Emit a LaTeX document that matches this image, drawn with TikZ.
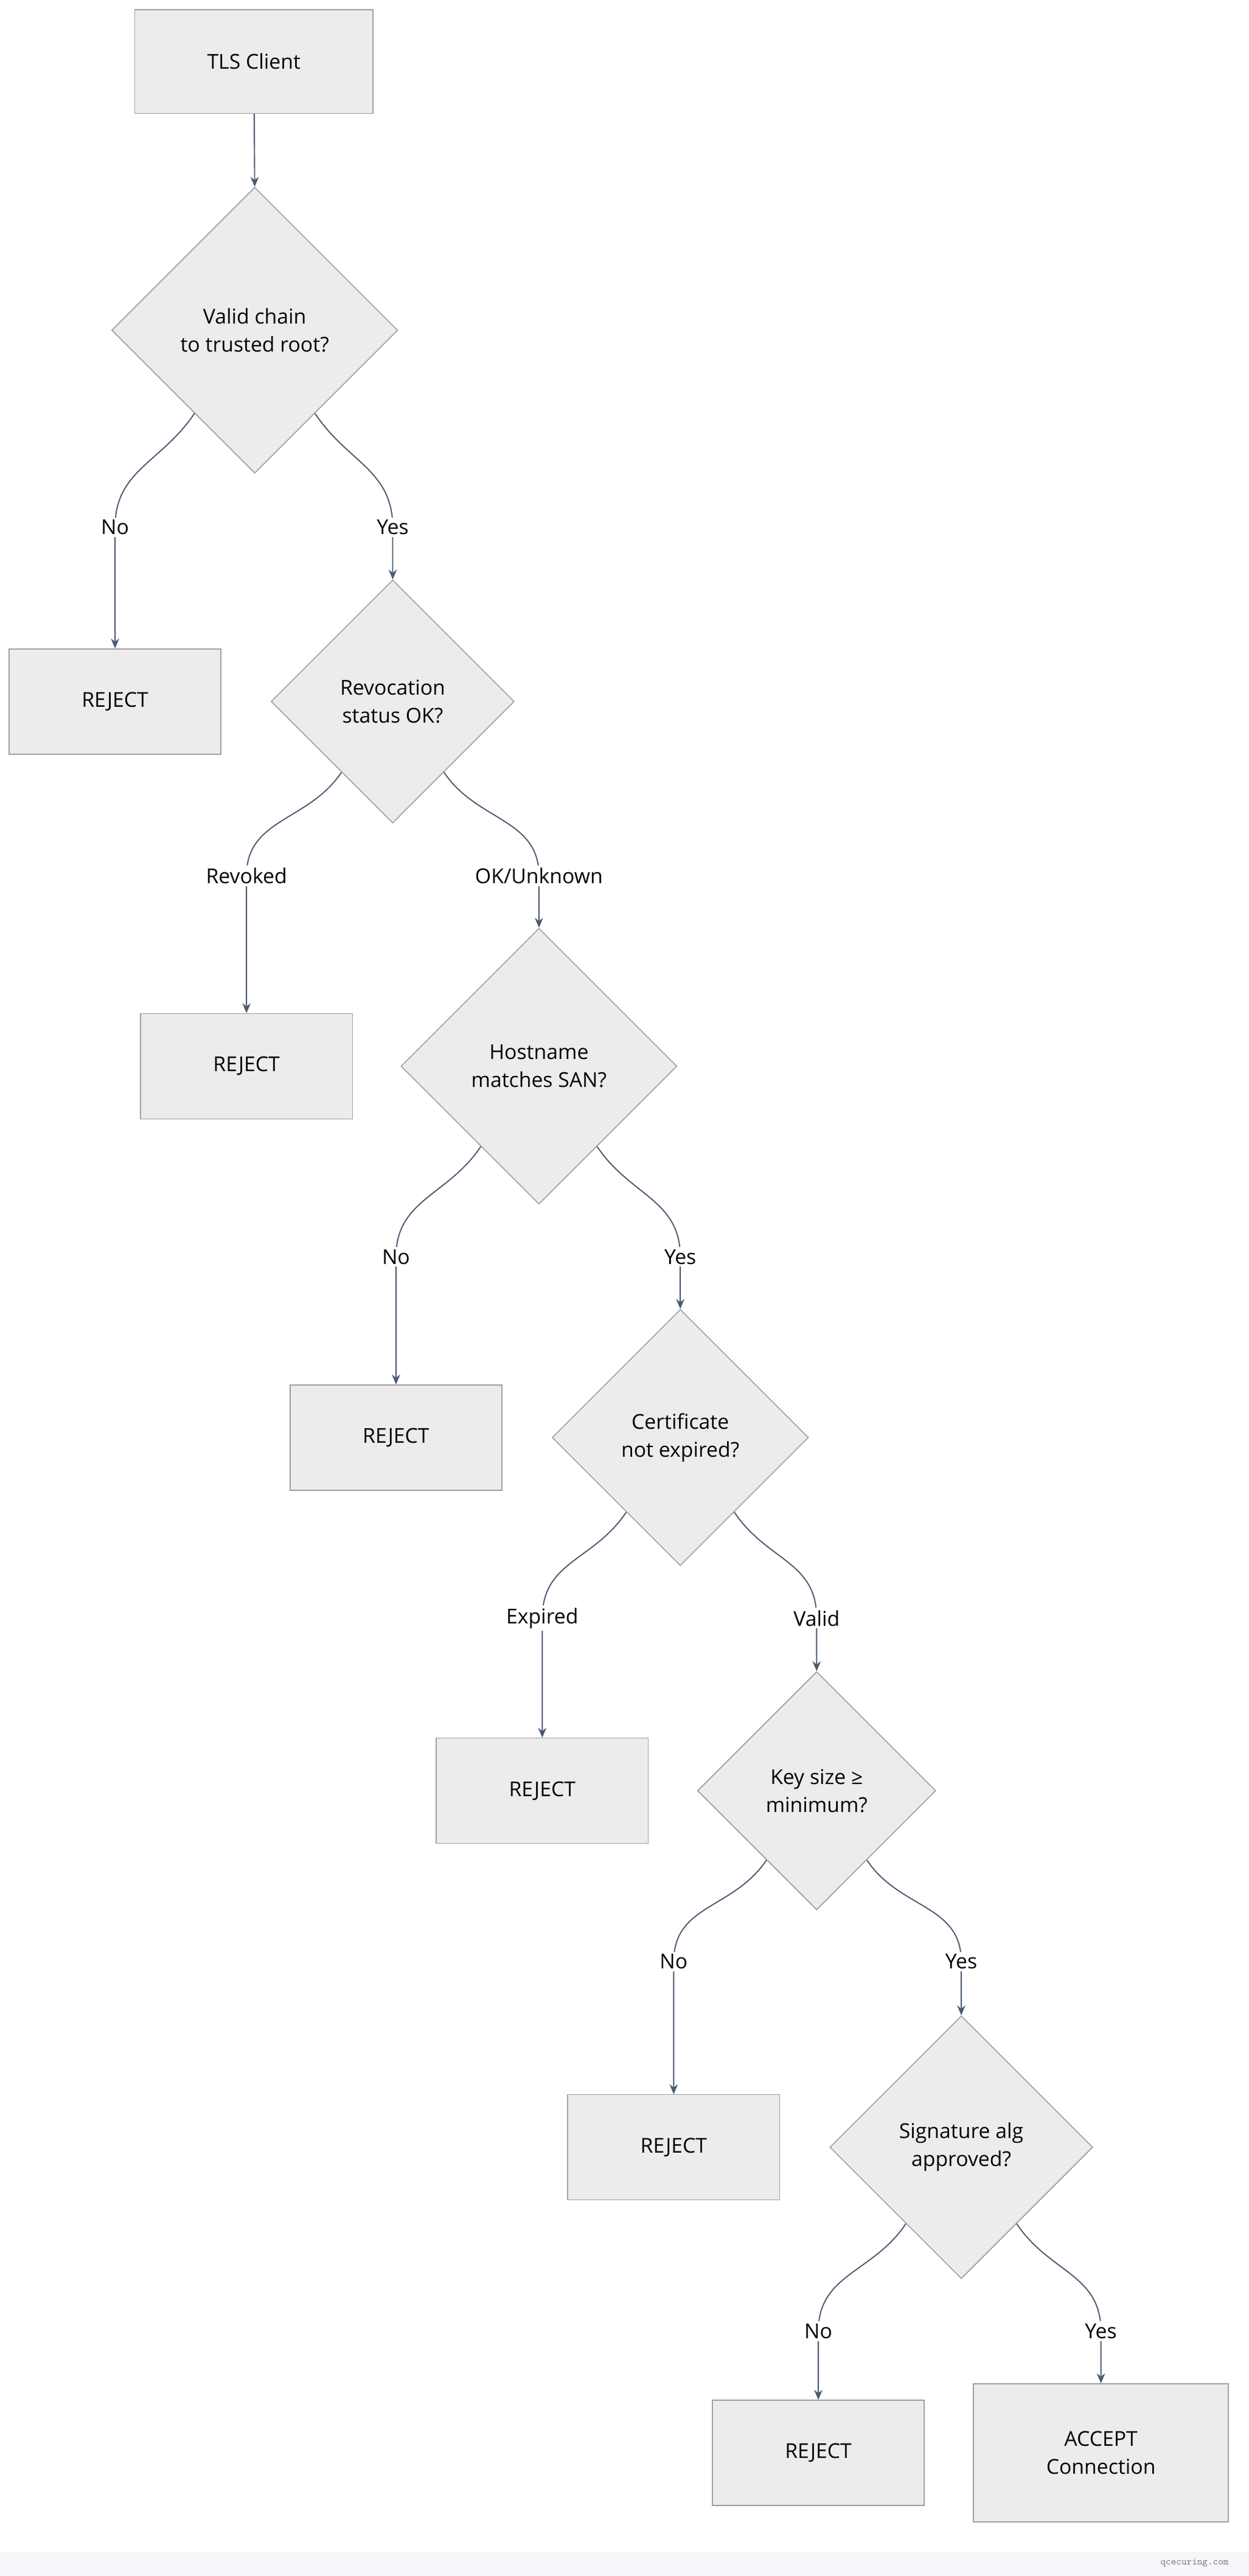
\documentclass[tikz,border=0pt]{standalone}
\usepackage{fontspec}
\setmainfont{Open Sans}
\usetikzlibrary{shapes.geometric,calc,arrows.meta}
\definecolor{nodefill}{HTML}{ECECEC}
\definecolor{nodeline}{HTML}{A0A0A0}
\definecolor{edgecol}{HTML}{4A5A70}
\definecolor{footbg}{HTML}{F5F7FA}
\begin{document}
\begin{tikzpicture}[x=1pt,y=-1pt,
  every node/.style={font=\fontsize{12.5}{17}\selectfont,text=black},
  box/.style={draw=nodeline,fill=nodefill,line width=0.6pt,minimum width=129pt,minimum height=64pt,inner sep=0pt,align=center},
  dia/.style={draw=nodeline,fill=nodefill,line width=0.6pt,diamond,aspect=1,inner sep=0pt,align=center},
  lab/.style={fill=white,inner sep=1.5pt},
  edge/.style={draw=edgecol,line width=0.7pt,-{Stealth[length=6pt,width=5pt]}}]
\useasboundingbox (0,0) rectangle (760,1568);
\fill[white] (0,0) rectangle (760,1568);
\fill[footbg] (0,1553) rectangle (760,1568);
\node[font=\ttfamily\fontsize{6}{7}\selectfont,text=gray] (foot) at (727,1560) {qcecuring.com};

\node[box,minimum width=145pt,minimum height=63pt] (c) at (154.5,37.5) {TLS Client};
\node[dia,minimum width=174pt,minimum height=174pt] (d1) at (155,201) {Valid chain\\to trusted root?};
\node[box] (r1) at (70,427) {REJECT};
\node[dia,minimum width=148pt,minimum height=148pt] (d2) at (239,427) {Revocation\\status OK?};
\node[box] (r2) at (150,649) {REJECT};
\node[dia,minimum width=168pt,minimum height=168pt] (d3) at (328,649) {Hostname\\matches SAN?};
\node[box] (r3) at (241,875) {REJECT};
\node[dia,minimum width=156pt,minimum height=156pt] (d4) at (414,875) {Certificate\\not expired?};
\node[box] (r4) at (330,1090) {REJECT};
\node[dia,minimum width=145pt,minimum height=145pt] (d5) at (497,1090) {Key size ≥\\minimum?};
\node[box] (r5) at (410,1307) {REJECT};
\node[dia,minimum width=160pt,minimum height=160pt] (d6) at (585,1307) {Signature alg\\approved?};
\node[box] (r6) at (498,1493) {REJECT};
\node[box,minimum width=155pt,minimum height=84pt] (acc) at (670,1493) {ACCEPT\\Connection};

\draw[edge] (c) -- (d1.north);

\foreach \d/\tl/\tr/\ll/\lr/\ly/\yl/\yr in {
  d1/r1/d2/No/Yes/321/70/239,
  d2/r2/d3/Revoked/OK\slash Unknown/533/150/328,
  d3/r3/d4/No/Yes/765/241/414,
  d4/r4/d5/Expired/Valid/985/330/497,
  d5/r5/d6/No/Yes/1194/410/585,
  d6/r6/acc/No/Yes/1419/498/670}{
  \coordinate (sl) at ($(\d.west)!0.58!(\d.south)$);
  \coordinate (sr) at ($(\d.east)!0.58!(\d.south)$);
  \coordinate (pl) at (\yl,\ly);
  \coordinate (pr) at (\yr,\ly);
  \draw[edge] (sl) .. controls ($(sl)+(-20,30)$) and ($(pl)+(0,-35)$) .. (pl) -- (\tl.north);
  \draw[edge] (sr) .. controls ($(sr)+(20,30)$) and ($(pr)+(0,-35)$) .. (pr) -- (\tr.north);
  \node[lab] (L\d) at (pl) {\ll};
  \node[lab] (R\d) at (pr) {\lr};
}
\end{tikzpicture}
\end{document}
